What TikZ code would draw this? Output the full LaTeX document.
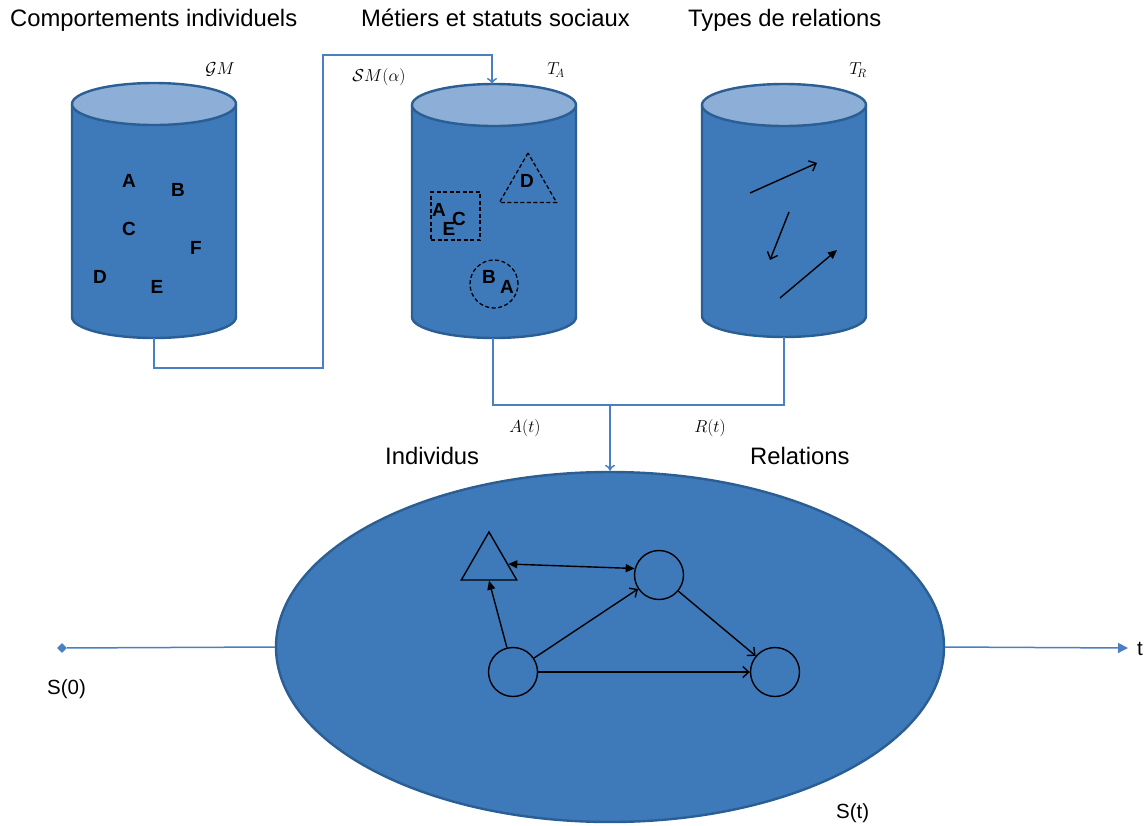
\documentclass[tikz,border=0pt]{standalone}
\usepackage[no-math]{fontspec}
\setmainfont{Liberation Sans}
\usetikzlibrary{shapes.geometric,arrows.meta}
\definecolor{bodyc}{HTML}{3E79BA}
\definecolor{topc}{HTML}{8DAED7}
\definecolor{edgec}{HTML}{2B5E92}
\definecolor{connc}{HTML}{4A80C2}
\newcommand\drawcyl[3]{%
  \fill[bodyc] (#1-82,-#2) -- (#1-82,-#3) arc[start angle=180,end angle=360,x radius=82pt,y radius=21pt] -- (#1+82,-#2) -- cycle;
  \draw[edgec,line width=2.4pt] (#1-82,-#2) -- (#1-82,-#3) arc[start angle=180,end angle=360,x radius=82pt,y radius=21pt] -- (#1+82,-#2);
  \filldraw[fill=topc,draw=edgec,line width=2.4pt] (#1,-#2) ellipse[x radius=82pt,y radius=21pt];
}
\begin{document}
\begin{tikzpicture}[x=1pt,y=1pt,
  title/.style={anchor=base west,inner sep=0,font=\fontsize{23.8}{28}\selectfont},
  smalltitle/.style={anchor=base west,inner sep=0,font=\fontsize{20.5}{24}\selectfont},
  letter/.style={inner sep=0,font=\fontsize{19}{22}\selectfont\bfseries},
  mlabel/.style={inner sep=0,font=\fontsize{17.5}{21}\selectfont},
  connline/.style={connc,line width=1.5pt},
  vhead/.style={-{To[length=6pt,width=10pt]}},
  dashedshape/.style={draw=black,line width=1.3pt,dash pattern=on 4pt off 2.5pt},
  netnode/.style={draw=black,line width=1.4pt,inner sep=0},
  netline/.style={black,line width=1.4pt},
  openhead/.style={-{Straight Barb[length=6pt,width=11pt]}},
  fillhead/.style={-{Triangle[length=9pt,width=8pt]}}]
\useasboundingbox (0,0) rectangle (1148,-825);

% titles
\node[title] (t1) at (10,-26) {Comportements individuels};
\node[title] (t2) at (361,-26) {Métiers et statuts sociaux};
\node[title] (t3) at (688,-26) {Types de relations};

% cylinders
\drawcyl{154}{104}{317}
\drawcyl{494}{105}{317}
\drawcyl{784}{105}{316}
\coordinate (gmB) at (154,-338);
\coordinate (taT) at (492,-84);
\coordinate (taB) at (493,-338);
\coordinate (trB) at (784,-337);

% math labels
\node[mlabel] (lgm) at (220,-69) {$\mathcal{G}M$};
\node[mlabel] (lsm) at (379,-77) {$\mathcal{S}M(\alpha)$};
\node[mlabel] (lta) at (556,-70) {$T_{\!A}$};
\node[mlabel] (ltr) at (858,-70) {$T_{\!R}$};
\node[mlabel] (lat) at (525,-428) {$A(t)$};
\node[mlabel] (lrt) at (710,-428) {$R(t)$};

% cylinder 1 letters
\node[letter] (a1) at (129,-181) {A};
\node[letter] (b1) at (178,-190) {B};
\node[letter] (c1l) at (129,-229) {C};
\node[letter] (f1) at (196,-248) {F};
\node[letter] (d1) at (100,-277) {D};
\node[letter] (e1) at (157,-287) {E};

% cylinder 2 groups
\node[dashedshape,regular polygon,regular polygon sides=3,minimum size=66pt,inner sep=0] (gtri) at (528,-186) {};
\node[letter] (d2) at (527,-181) {D};
\node[dashedshape,rectangle,minimum width=49pt,minimum height=48pt,inner sep=0] (grect) at (455.5,-216) {};
\node[letter] (a2) at (439,-210) {A};
\node[letter] (e2) at (449,-229) {E};
\node[letter] (c2l) at (459,-219) {C};
\node[dashedshape,circle,minimum size=48pt,inner sep=0] (gcirc) at (494,-284) {};
\node[letter] (b2) at (489,-277) {B};
\node[letter] (a3) at (507,-287) {A};

% cylinder 3 arrows
\coordinate (r1s) at (750,-193); \coordinate (r1e) at (817,-163);
\coordinate (r2s) at (789,-212); \coordinate (r2e) at (770,-260);
\coordinate (r3s) at (780,-298); \coordinate (r3e) at (837,-250);
\draw[netline,openhead] (r1s) -- (r1e);
\draw[netline,openhead] (r2s) -- (r2e);
\draw[netline,fillhead] (r3s) -- (r3e);

% connectors
\draw[connline,vhead] (gmB) |- (323,-368) |- (492,-55) -- (taT);
\draw[connline] (taB) -- (493,-405) -| (trB);

% big ellipse
\node[ellipse,fill=bodyc,draw=edgec,line width=2.4pt,minimum width=668pt,minimum height=350pt,inner sep=0] (sys) at (610,-647) {};
\draw[connline,vhead] (610,-405) -- (sys.north);

% labels
\node[title] (lind) at (385,-464) {Individus};
\node[title] (lrel) at (750,-464) {Relations};

% timeline
\node[diamond,fill=connc,inner sep=0,minimum size=10pt] (s0) at (62,-648) {};
\coordinate (tend) at (1128,-648);
\draw[connline] (s0) -- (sys.west);
\draw[connline,-{Triangle[length=10pt,width=10pt]}] (sys.east) -- (tend);
\node[smalltitle] (ls0) at (47,-694) {S(0)};
\node[smalltitle] (lst) at (836,-818) {S(t)};
\node[smalltitle] (lt) at (1137,-655) {t};

% network
\node[netnode,regular polygon,regular polygon sides=3,minimum size=64pt] (tri) at (489,-564) {};
\node[netnode,circle,minimum size=49pt] (n1) at (659,-575) {};
\node[netnode,circle,minimum size=49pt] (n0) at (513,-672) {};
\node[netnode,circle,minimum size=49pt] (n2) at (775,-672) {};
\draw[netline,{Triangle[length=9pt,width=8pt]}-{Triangle[length=9pt,width=8pt]}] (tri.east) -- (n1.165);
\draw[netline,fillhead] (n0.104) -- (tri.south);
\draw[netline,openhead] (n0) -- (n1);
\draw[netline,openhead] (n1) -- (n2);
\draw[netline,openhead] (n0) -- (n2);
\end{tikzpicture}
\end{document}
